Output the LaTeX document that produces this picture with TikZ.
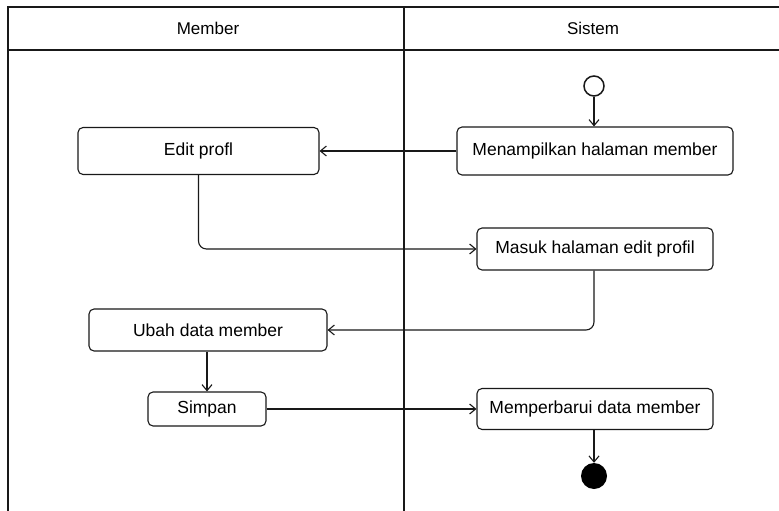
\documentclass[tikz,border=0pt]{standalone}
\usepackage{fontspec}
\setmainfont{Liberation Sans}
\usetikzlibrary{arrows.meta}
\tikzset{
  act/.style={draw=black!90, line width=1.1pt, rounded corners=5pt, fill=white,
    inner sep=0pt, align=center, font=\fontsize{17.5}{20}\selectfont},
  flow/.style={draw=black!90, line width=1.1pt, rounded corners=8pt,
    -{Straight Barb[length=6pt,width=10pt,line width=1.1pt]}},
  lane/.style={draw=black!90, line width=1.1pt},
  hdr/.style={font=\fontsize{17}{20}\selectfont}
}
\begin{document}
\begin{tikzpicture}[x=1pt,y=-1pt]
\useasboundingbox (0,0) rectangle (779,511);
% swimlane frame
\draw[lane] (8,511) -- (8,7) -- (779,7);
\draw[lane] (8,50) -- (779,50);
\draw[lane] (404,7) -- (404,511);
\node[hdr] (hmember) at (208,28) {Member};
\node[hdr] (hsistem) at (593,28) {Sistem};
% start / end
\node[circle, draw=black!90, line width=1.5pt, fill=white, minimum size=20pt, inner sep=0pt] (start) at (594,86) {};
\node[circle, fill=black, minimum size=26pt, inner sep=0pt] (end) at (594,476) {};
% activities
\node[act, minimum width=276pt, minimum height=48pt] (tampil) at (595,151) {Menampilkan halaman member};
\node[act, minimum width=241pt, minimum height=47pt] (edit) at (198.5,151) {Edit profl};
\node[act, minimum width=236pt, minimum height=42pt] (masuk) at (595,249) {Masuk halaman edit profil};
\node[act, minimum width=238pt, minimum height=42pt] (ubah) at (208,330) {Ubah data member};
\node[act, minimum width=118pt, minimum height=34pt] (simpan) at (207,409) {Simpan};
\node[act, minimum width=236pt, minimum height=41pt] (perbarui) at (595,409) {Memperbarui data member};
% flows
\draw[flow] (start) -- (tampil.north -| start);
\draw[flow] (tampil.west) -- (edit.east);
\draw[flow] (edit.south) |- (masuk.west);
\draw[flow] (masuk.south -| start) |- (ubah.east);
\draw[flow] (ubah.south -| simpan) -- (simpan.north);
\draw[flow] (simpan.east) -- (perbarui.west);
\draw[flow] (perbarui.south -| end) -- (end);
\end{tikzpicture}
\end{document}
